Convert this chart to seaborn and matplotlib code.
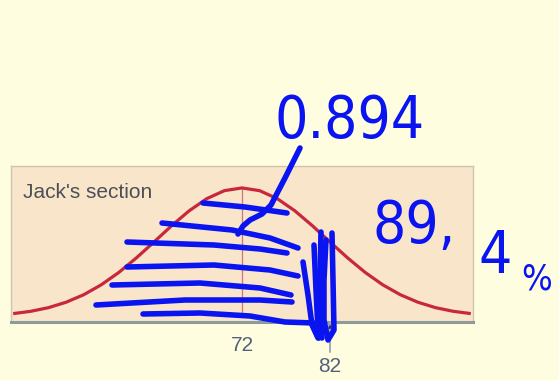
import matplotlib
matplotlib.use("Agg")
import matplotlib.pyplot as plt
from matplotlib import font_manager
import pandas as pd
import seaborn as sns

sns.set_style("white")
plt.rcParams['font.family'] = ['Liberation Sans', 'DejaVu Sans']

# bell curve (height as fraction of the peak)
score = [46, 48, 50, 52, 54, 56, 58, 60, 62, 64, 66, 68, 70, 72,
         74, 76, 78, 80, 82, 84, 86, 88, 90, 92, 94, 96, 98]
height = [0.026, 0.044, 0.072, 0.114, 0.172, 0.249, 0.345, 0.458, 0.581,
          0.707, 0.823, 0.917, 0.979, 1.000, 0.979, 0.917, 0.823, 0.707,
          0.581, 0.458, 0.345, 0.249, 0.172, 0.114, 0.072, 0.044, 0.026]
mean_score = 72
jack_score = 82
section = "Jack's section"
prop_text = "0.894"
pct_parts = ["89,", "4", "%"]

# handwritten pen strokes, in picture pixels (x right, y down)
hatch = [
    [(203, 203), (245, 207), (287, 213)],
    [(162, 223), (232, 230), (270, 238), (298, 248)],
    [(127, 242), (214, 245), (260, 249), (287, 253)],
    [(127, 267), (214, 265), (270, 270), (298, 276)],
    [(112, 285), (200, 283), (260, 288), (291, 295)],
    [(96, 305), (185, 300), (260, 300), (292, 302)],
    [(143, 314), (200, 313), (250, 316), (285, 322), (314, 323)],
]
leader = [(300, 148), (285, 178), (271, 205), (262, 214), (250, 220),
          (243, 226), (238, 234)]
tangle = [
    [(321, 232), (320, 280), (320, 320), (322, 338)],
    [(332, 233), (333, 280), (334, 330), (328, 340), (324, 320),
     (324, 280), (326, 240)],
    [(314, 245), (316, 290), (318, 330), (319, 338), (322, 332)],
    [(303, 262), (308, 295), (312, 325), (318, 338)],
]

fonts = font_manager.fontManager.ttflist
names = {f.name for f in fonts}
has_cond = any(f.name == 'DejaVu Sans' and 'condensed' in str(f.stretch)
               for f in fonts)
if 'Liberation Sans Narrow' in names:
    hand, stretch, hand_size = 'Liberation Sans Narrow', 'normal', 52
elif has_cond:
    hand, stretch, hand_size = 'DejaVu Sans', 'condensed', 42
else:
    hand, stretch, hand_size = 'DejaVu Sans', 'normal', 40

W, H = 559, 380
fig = plt.figure(figsize=(W / 100, H / 100), dpi=100)
fig.patch.set_facecolor('#fffde0')

ax = fig.add_axes([11 / W, 58 / H, 462 / W, 156 / H])
ax.set_facecolor('#f9e5c9')
curve = pd.DataFrame({'score': score, 'height': height})
sns.lineplot(data=curve, x='score', y='height', ax=ax, color='#c8283c',
             lw=2.3, solid_capstyle='butt')
ax.plot([mean_score, mean_score], [0, 1], color='#cf7580', lw=0.9, zorder=1)
ax.set_xlim(45.75, 98.25)
ax.set_ylim(-0.039, 1.17)
ax.set_yticks([])
ax.set_xticks([mean_score])
ax.set_xticklabels([str(mean_score)])
ax.tick_params(axis='x', length=0, pad=10, labelsize=15, labelcolor='#526178')
ax.set_xlabel('')
ax.set_ylabel('')
for side in ['left', 'top', 'right']:
    ax.spines[side].set_color('#cdc5b2')
    ax.spines[side].set_linewidth(1)
ax.spines['bottom'].set_color('#8d9b9b')
ax.spines['bottom'].set_linewidth(2.2)
ax.text(0.026, 0.795, section, transform=ax.transAxes, fontsize=15,
        color='#4b5058', va='baseline', ha='left')
ax.annotate(str(jack_score), xy=(jack_score, 0.01),
            xycoords=('data', 'axes fraction'),
            xytext=(0, -33), textcoords='offset points', ha='center',
            va='center', fontsize=15, color='#526178',
            arrowprops=dict(arrowstyle='-|>', ec='#9aa6b0', fc='#2c3440',
                            lw=1.3, shrinkA=1, shrinkB=0, mutation_scale=13))

# pen layer on top, in picture pixels
pen = fig.add_axes([0, 0, 1, 1], zorder=5)
pen.set_xlim(0, W)
pen.set_ylim(H, 0)
pen.axis('off')
pen.patch.set_alpha(0)
blue = '#0a14f0'
for s in hatch + [leader] + tangle:
    xs, ys = zip(*s)
    pen.plot(xs, ys, color=blue, lw=4, solid_capstyle='round',
             solid_joinstyle='round')
hand_kw = dict(family=hand, fontstretch=stretch, color=blue,
               va='baseline', ha='left')
pen.text(274, 138, prop_text, fontsize=hand_size, **hand_kw)
pen.text(372, 243, pct_parts[0], fontsize=hand_size, **hand_kw)
pen.text(478, 273, pct_parts[1], fontsize=hand_size, **hand_kw)
pen.text(521, 289, pct_parts[2], fontsize=26, **hand_kw)

fig.savefig('out.png', dpi=100, facecolor=fig.get_facecolor())
